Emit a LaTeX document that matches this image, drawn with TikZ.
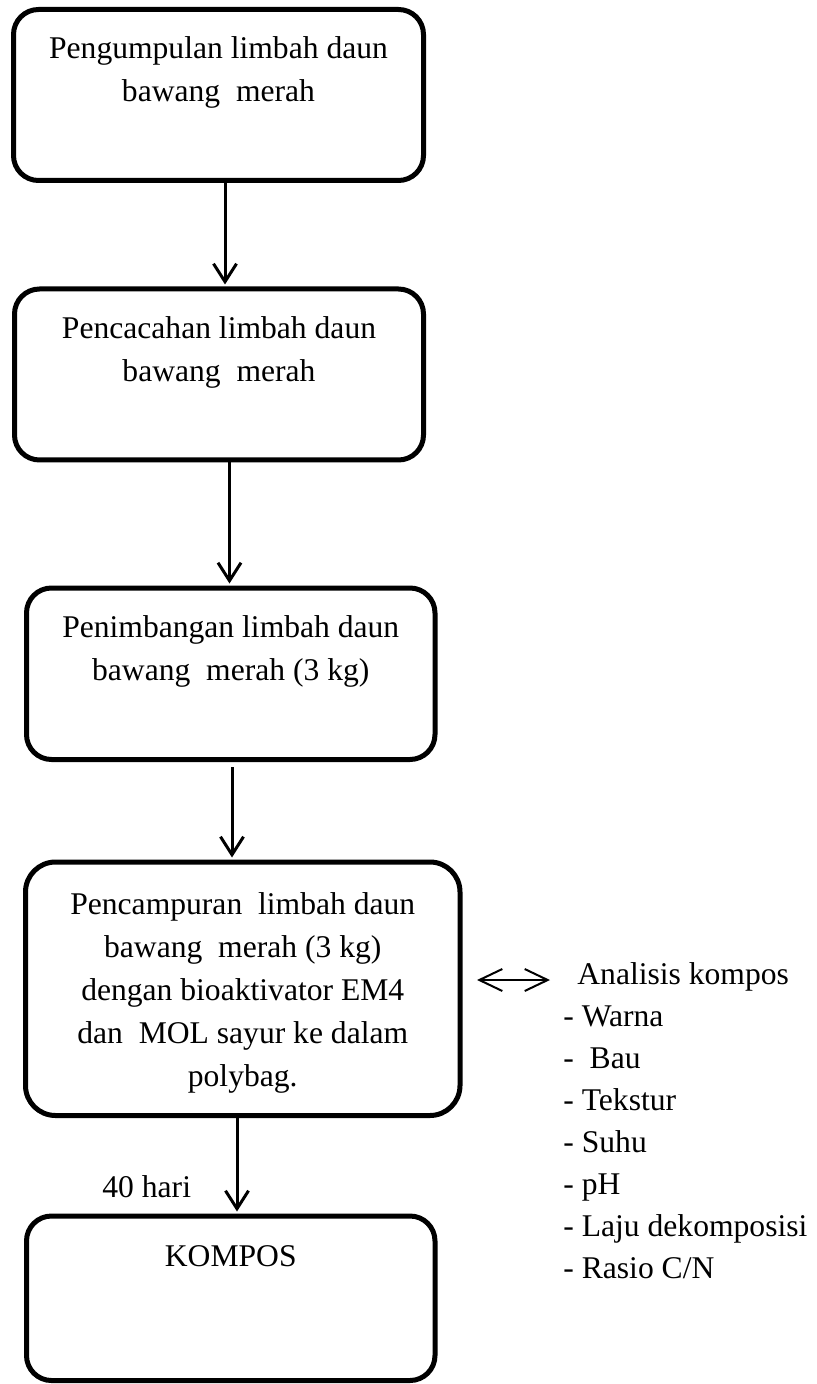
\documentclass[tikz,border=0pt]{standalone}
\usepackage{fontspec}
\setmainfont{Liberation Serif}
\usetikzlibrary{arrows.meta}

\begin{document}
\begin{tikzpicture}[
            x = .5pt, y = -.5pt,
            every node/.style={text depth=0pt, inner sep=0pt, font=\fontsize{15.8}{21.5}\selectfont},
            stepbox/.style={draw, line width = 2.5pt, outer sep=0pt, rounded corners = 12.5pt},
            steptext/.style={align=center, anchor=north},
            flow/.style={line width = 1.5pt, -{Straight Barb[length=9pt, width=11.5pt]}, shorten >=2.25pt},
            both/.style={line width = 1pt, {Straight Barb[length=11.5pt, width=11pt]}-{Straight Barb[length=11.5pt, width=11pt]}},
            ]

        \useasboundingbox (0,0) rectangle (816,1384);

        \node[stepbox, minimum width=205pt, minimum height=85.5pt] (b1) at (218.5,95) {};
        \node[stepbox, minimum width=204.5pt, minimum height=85.5pt] (b2) at (219,374.5) {};
        \node[stepbox, minimum width=204.25pt, minimum height=85.75pt] (b3) at (230.75,673.75) {};
        \node[stepbox, minimum width=217.25pt, minimum height=126.75pt, rounded corners=15pt] (b4) at (242.75,988.75) {};
        \node[stepbox, minimum width=204.25pt, minimum height=82.25pt] (b5) at (230.75,1298.25) {};

        \node[steptext] (t1) at ([yshift=-13.5pt]b1.north) {Pengumpulan limbah daun\\bawang~ merah};
        \node[steptext] (t2) at ([yshift=-13.5pt]b2.north) {Pencacahan limbah daun\\bawang~ merah};
        \node[steptext] (t3) at ([yshift=-13.5pt]b3.north) {Penimbangan limbah daun\\bawang~ merah (3 kg)};
        \node[steptext] (t4) at ([yshift=-15pt]b4.north) {Pencampuran~ limbah daun\\bawang~ merah (3 kg)\\dengan bioaktivator EM4\\dan~ MOL sayur ke dalam\\polybag.};
        \node[steptext] (t5) at ([yshift=-14.75pt]b5.north) {KOMPOS};

        \node[anchor=base west] (hari) at (102,1197) {40 hari};
        \node[anchor=north west, align=left, font=\fontsize{15.8}{21}\selectfont] (analisis) at (563,962)
            {\hspace{7pt}Analisis kompos\\- Warna\\-~ Bau\\- Tekstur\\- Suhu\\- pH\\- Laju dekomposisi\\- Rasio C/N};

        \coordinate (x1) at (225,0);
        \coordinate (x2) at (229.5,0);
        \coordinate (x3) at (232,0);
        \coordinate (x4) at (237,0);
        \coordinate (dl) at (477,980);
        \coordinate (dr) at (550,980);

        \draw[flow] (b1.south -| x1) -- (b2.north -| x1);
        \draw[flow] (b2.south -| x2) -- (b3.north -| x2);
        \draw[flow, shorten <=3.75pt] (b3.south -| x3) -- (b4.north -| x3);
        \draw[flow] (b4.south -| x4) -- (b5.north -| x4);
        \draw[both] (dl) -- (dr);
    \end{tikzpicture}
\end{document}
